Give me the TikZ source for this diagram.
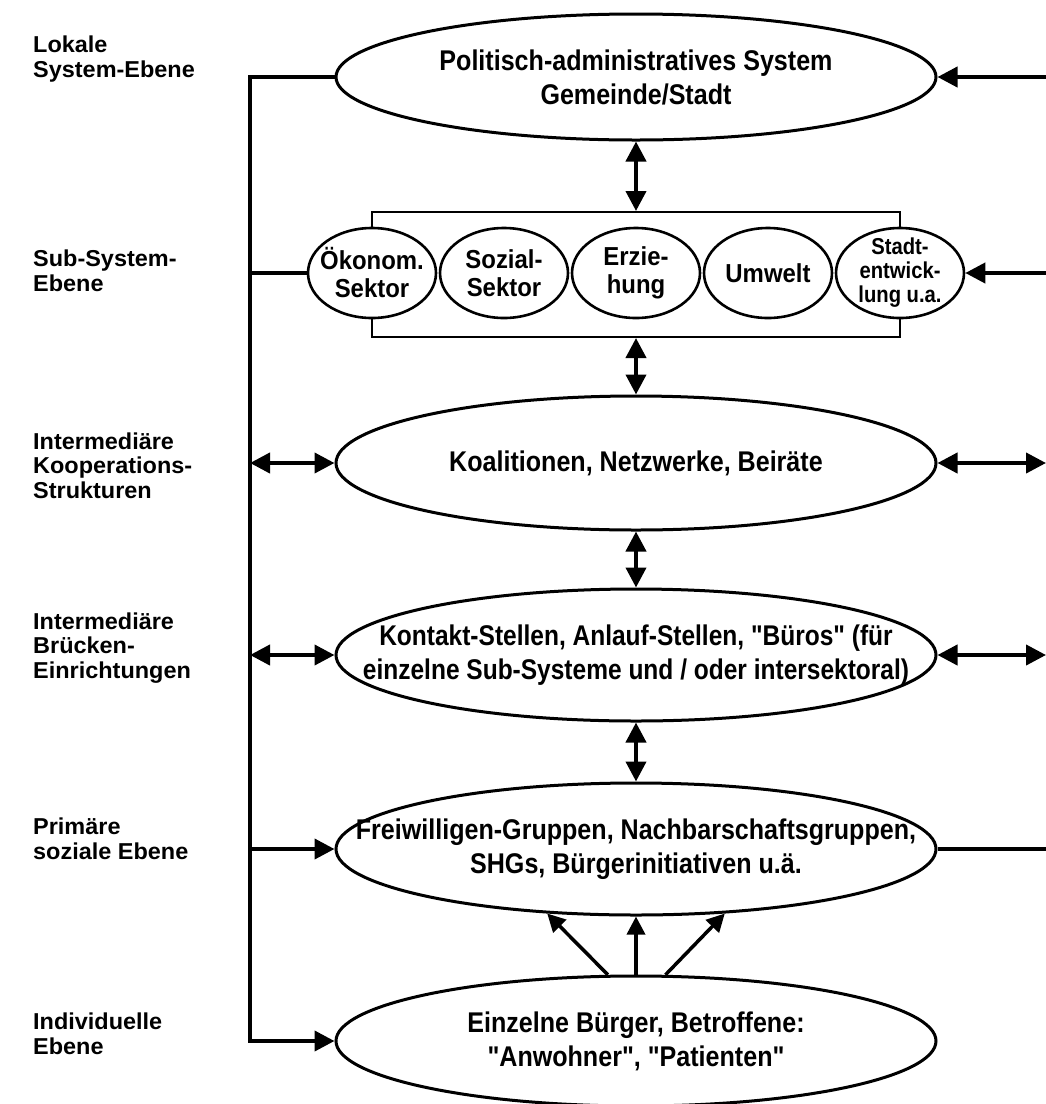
\documentclass[tikz,border=0pt]{standalone}
\usepackage{fontspec}
\setmainfont{Liberation Sans}
\newfontfamily\lvlfont[FakeStretch=1.02]{Liberation Sans}
\newfontfamily\boxfont[FakeStretch=0.88]{Liberation Sans}
\newfontfamily\narrowboxfont[FakeStretch=0.86]{Liberation Sans}
\newfontfamily\secfont[FakeStretch=0.92]{Liberation Sans}
\usetikzlibrary{arrows.meta,shapes.geometric}

\tikzset{
  level/.style={anchor=base west, align=left, inner sep=0pt,
    font=\lvlfont\bfseries\fontsize{23}{24.5}\selectfont},
  bigell/.style={ellipse, draw, line width=3pt, fill=white, inner sep=0pt,
    minimum width=600pt, minimum height=130pt},
  elltext/.style={align=center, inner sep=0pt,
    font=\boxfont\bfseries\fontsize{28.5}{34}\selectfont},
  sector/.style={ellipse, draw, line width=2.6pt, fill=white, inner sep=0pt,
    minimum width=128pt, minimum height=90pt},
  sectext/.style={align=center, inner sep=0pt,
    font=\secfont\bfseries\fontsize{26}{28}\selectfont},
  conn/.style={line width=4pt},
  tip/.style={-{Triangle[length=20pt,width=20pt]}},
  dtip/.style={{Triangle[length=20pt,width=20pt]}-{Triangle[length=20pt,width=20pt]}},
  thin tip/.style={-{Triangle[length=18pt,width=18pt]}},
}

\begin{document}
\begin{tikzpicture}[x=1pt,y=-1pt]
\useasboundingbox (0,0) rectangle (1046,1104);

% level labels on the left (anchored at the baseline of their last line)
\node[level] (l1) at (33,77)   {Lokale\\System-Ebene};
\node[level] (l2) at (33,291)  {Sub-System-\\Ebene};
\node[level] (l3) at (33,498)  {Intermediäre\\Kooperations-\\Strukturen};
\node[level] (l4) at (33,678)  {Intermediäre\\Brücken-\\Einrichtungen};
\node[level] (l5) at (33,859)  {Primäre\\soziale Ebene};
\node[level] (l6) at (33,1054) {Individuelle\\Ebene};

% main levels
\node[bigell, minimum height=126pt] (pol) at (636,77) {};
\node[elltext] (polT) at (pol.center) {Politisch-administratives System\\Gemeinde/Stadt};

\node[draw, line width=2pt, minimum width=528pt, minimum height=125pt,
      inner sep=0pt] (sub) at (636,274.5) {};
\node[sector] (s1) at (372,273) {};
\node[sector] (s2) at (504,273) {};
\node[sector] (s3) at (636,273) {};
\node[sector] (s4) at (768,273) {};
\node[sector] (s5) at (900,273) {};
\node[sectext] (s1T) at (s1.center) {Ökonom.\\Sektor};
\node[sectext] (s2T) at (s2.center) {Sozial-\\Sektor};
\node[sectext] (s3T) at (s3.center) {Erzie-\\hung};
\node[sectext] (s4T) at (s4.center) {Umwelt};
\node[sectext, font=\boxfont\bfseries\fontsize{23}{24}\selectfont]
  (s5T) at (s5.center) {Stadt-\\entwick-\\lung u.a.};

\node[bigell, minimum height=134pt] (koal) at (636,463) {};
\node[elltext] (koalT) at (koal.center) {Koalitionen, Netzwerke, Beiräte};
\node[bigell, minimum height=132pt] (kont) at (636,655) {};
\node[elltext, font=\narrowboxfont\bfseries\fontsize{28.5}{34}\selectfont]
  (kontT) at (kont.center)
  {Kontakt-Stellen, Anlauf-Stellen, "Büros" (für\\einzelne Sub-Systeme und / oder intersektoral)};
\node[bigell, minimum height=132pt] (frei) at (636,849) {};
\node[elltext] (freiT) at (frei.center)
  {Freiwilligen-Gruppen, Nachbarschaftsgruppen,\\SHGs, Bürgerinitiativen u.ä.};
\node[bigell, minimum height=130pt] (einz) at (636,1041) {};
\node[elltext] (einzT) at (einz.center)
  {Einzelne Bürger, Betroffene:\\"Anwohner", "Patienten"};

% spine on the left and the right margin
\coordinate (spine) at (250,1041);
\coordinate (edge)  at (1046,0);

% vertical links between the levels
\draw[conn, dtip] (pol.south)  -- (sub.north);
\draw[conn, dtip] (sub.south)  -- (koal.north);
\draw[conn, dtip] (koal.south) -- (kont.north);
\draw[conn, dtip] (kont.south) -- (frei.north);

% individuals feeding the primary groups
\draw[line width=3.5pt, thin tip] (einz.113.8) -- (frei.216);
\draw[line width=3.5pt, thin tip] (einz.north) -- (frei.south);
\draw[line width=3.5pt, thin tip] (einz.66.2)  -- (frei.324);

% left-hand spine
\draw[conn, tip] (pol.west) -| (spine) -- (einz.west);
\draw[conn] (s1.west) -- (s1.west -| spine);
\draw[conn, dtip] (koal.west -| spine) -- (koal.west);
\draw[conn, dtip] (kont.west -| spine) -- (kont.west);
\draw[conn, tip] (frei.west -| spine) -- (frei.west);

% right-hand links
\draw[conn, tip] (pol.east -| edge) -- (pol.east);
\draw[conn, tip] (s5.east -| edge) -- (s5.east);
\draw[conn, dtip] (koal.east) -- (koal.east -| edge);
\draw[conn, dtip] (kont.east) -- (kont.east -| edge);
\draw[conn] (frei.east) -- (frei.east -| edge);
\end{tikzpicture}
\end{document}
